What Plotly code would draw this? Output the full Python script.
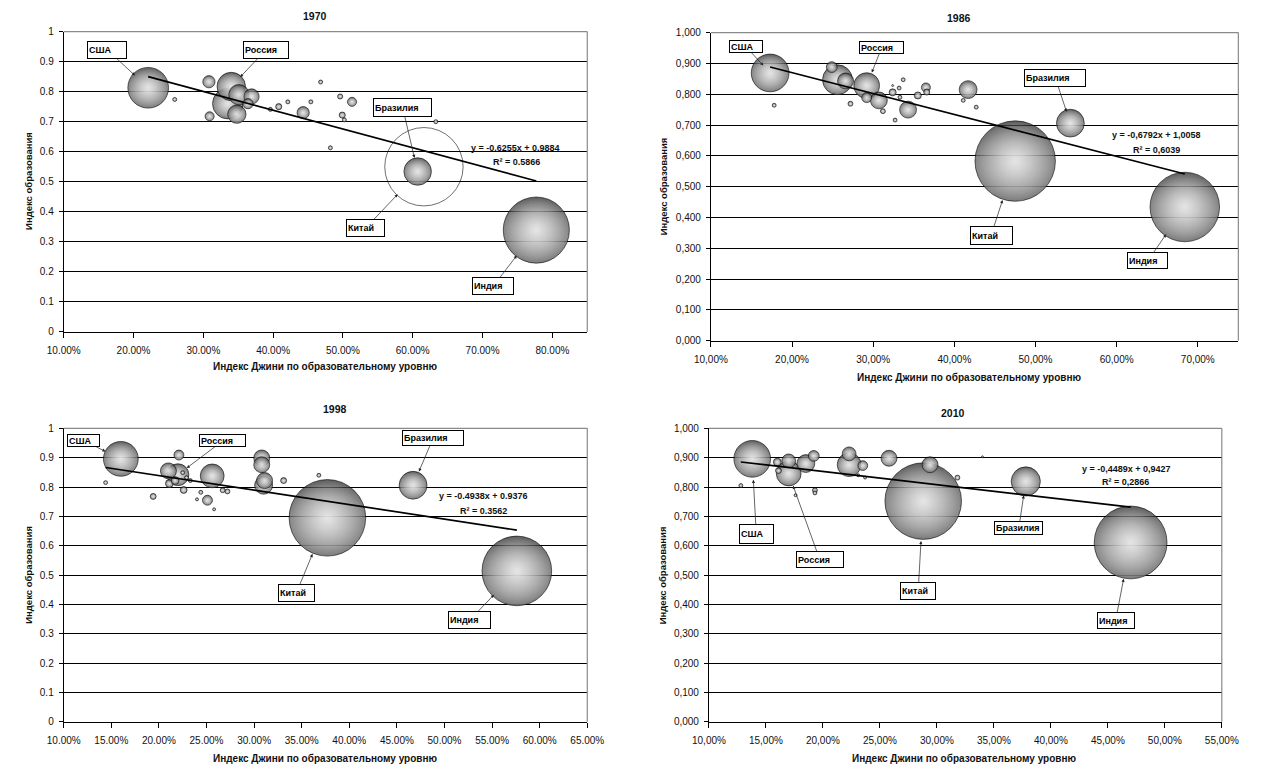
import plotly.graph_objects as go

W, H = 1268, 773

# ---------------- data ----------------
years = ["1970", "1986", "1998", "2010"]

# 1970
gini_1970 = [0.221, 0.259, 0.308, 0.309, 0.340, 0.335, 0.348, 0.351, 0.369, 0.364, 0.396, 0.408,
             0.421, 0.443, 0.454, 0.468, 0.496, 0.513, 0.499, 0.502, 0.633, 0.482, 0.607, 0.777, 0.616]
edu_1970 = [0.813, 0.774, 0.833, 0.718, 0.817, 0.760, 0.725, 0.790, 0.784, 0.760, 0.741, 0.750,
            0.766, 0.730, 0.766, 0.832, 0.784, 0.766, 0.722, 0.706, 0.700, 0.613, 0.534, 0.339, 0.550]
pop_1970 = [221, 2.2, 20, 11, 108, 124, 45, 55, 31, 14, 2.2, 5,
            2.2, 20, 2.2, 2.2, 3.5, 11, 5, 2.2, 2.2, 2.2, 101, 584, 820]
names_1970 = ["США", "", "", "", "Россия", "", "", "", "", "", "", "",
              "", "", "", "", "", "", "", "", "", "", "Бразилия", "Индия", "Китай"]

# 1986
gini_1986 = [0.173, 0.178, 0.249, 0.256, 0.266, 0.272, 0.292, 0.292, 0.307, 0.312, 0.324, 0.324, 0.327,
             0.332, 0.333, 0.337, 0.343, 0.355, 0.365, 0.366, 0.417, 0.411, 0.427, 0.543, 0.475, 0.684]
edu_1986 = [0.869, 0.764, 0.888, 0.847, 0.843, 0.769, 0.828, 0.789, 0.780, 0.745, 0.806, 0.828, 0.716,
            0.820, 0.790, 0.847, 0.750, 0.796, 0.822, 0.807, 0.815, 0.780, 0.758, 0.706, 0.583, 0.434]
pop_1986 = [229, 2.5, 19, 143, 41, 4, 107, 16, 46, 4, 8, 0.6, 2.5,
            2.5, 2.5, 2.5, 46, 8, 13, 6, 51, 2.5, 2.5, 124, 1040, 777]
names_1986 = ["США", "", "", "", "", "", "Россия", "", "", "", "", "", "",
              "", "", "", "", "", "", "", "", "", "", "Бразилия", "Китай", "Индия"]

# 1998
gini_1998 = [0.160, 0.144, 0.194, 0.221, 0.210, 0.220, 0.211, 0.217, 0.225, 0.229, 0.233, 0.226, 0.244, 0.240,
             0.251, 0.258, 0.256, 0.267, 0.272, 0.308, 0.308, 0.311, 0.310, 0.331, 0.368, 0.377, 0.467, 0.576]
edu_1998 = [0.896, 0.815, 0.768, 0.909, 0.855, 0.842, 0.812, 0.822, 0.849, 0.832, 0.822, 0.790, 0.782, 0.758,
            0.755, 0.724, 0.838, 0.789, 0.785, 0.899, 0.876, 0.822, 0.806, 0.822, 0.840, 0.695, 0.806, 0.514]
pop_1998 = [256, 3.3, 7.5, 21, 54, 101, 13, 13, 3.3, 3.3, 3.3, 10, 3.3, 1.9,
            21, 1.9, 120, 5.2, 5.2, 54, 54, 54, 68, 7.5, 3.3, 1240, 164, 1025]
names_1998 = ["США", "", "", "", "", "Россия", "", "", "", "", "", "", "", "",
              "", "", "", "", "", "", "", "", "", "", "", "Китай", "Бразилия", "Индия"]

# 2010
gini_2010 = [0.138, 0.128, 0.160, 0.161, 0.170, 0.170, 0.176, 0.185, 0.192, 0.193, 0.193, 0.223,
             0.223, 0.235, 0.231, 0.237, 0.258, 0.294, 0.318, 0.340, 0.288, 0.378, 0.470]
edu_2010 = [0.896, 0.805, 0.885, 0.856, 0.846, 0.889, 0.772, 0.880, 0.906, 0.789, 0.780, 0.913,
            0.876, 0.873, 0.840, 0.832, 0.898, 0.876, 0.832, 0.903, 0.752, 0.819, 0.611]
pop_2010 = [308, 3.6, 14, 8, 140, 44, 2, 73, 27, 5.6, 3.6, 44,
            129, 22, 2, 2, 58, 58, 5.6, 0.9, 1340, 194, 1211]
names_2010 = ["США", "", "", "", "Россия", "", "", "", "", "", "", "",
              "", "", "", "", "", "", "", "", "Китай", "Бразилия", "Индия"]

gini = [gini_1970, gini_1986, gini_1998, gini_2010]
edu = [edu_1970, edu_1986, edu_1998, edu_2010]
pop = [pop_1970, pop_1986, pop_1998, pop_2010]
names = [names_1970, names_1986, names_1998, names_2010]

# hollow (estimated) bubble in 1970: China
hollow_1970 = ["Китай"]

# trend lines
slopes = [-0.6255, -0.6792, -0.4938, -0.4489]
intercepts = [0.9884, 1.0058, 0.9376, 0.9427]
eq_texts = ["y = -0.6255x + 0.9884", "y = -0,6792x + 1,0058",
            "y = -0.4938x + 0.9376", "y = -0,4489x + 0,9427"]
r2_texts = ["R² = 0.5866", "R² = 0,6039", "R² = 0.3562", "R² = 0,2866"]

# axis ticks
x_ticks_1970 = [0.10, 0.20, 0.30, 0.40, 0.50, 0.60, 0.70, 0.80]
x_labels_1970 = ["10.00%", "20.00%", "30.00%", "40.00%", "50.00%", "60.00%", "70.00%", "80.00%"]
x_ticks_1986 = [0.10, 0.20, 0.30, 0.40, 0.50, 0.60, 0.70]
x_labels_1986 = ["10,00%", "20,00%", "30,00%", "40,00%", "50,00%", "60,00%", "70,00%"]
x_ticks_1998 = [0.10, 0.15, 0.20, 0.25, 0.30, 0.35, 0.40, 0.45, 0.50, 0.55, 0.60, 0.65]
x_labels_1998 = ["10.00%", "15.00%", "20.00%", "25.00%", "30.00%", "35.00%", "40.00%", "45.00%",
                 "50.00%", "55.00%", "60.00%", "65.00%"]
x_ticks_2010 = [0.10, 0.15, 0.20, 0.25, 0.30, 0.35, 0.40, 0.45, 0.50, 0.55]
x_labels_2010 = ["10,00%", "15,00%", "20,00%", "25,00%", "30,00%", "35,00%", "40,00%", "45,00%",
                 "50,00%", "55,00%"]
y_ticks = [0, 0.1, 0.2, 0.3, 0.4, 0.5, 0.6, 0.7, 0.8, 0.9, 1.0]
y_labels_dot = ["0", "0.1", "0.2", "0.3", "0.4", "0.5", "0.6", "0.7", "0.8", "0.9", "1"]
y_labels_comma = ["0,000", "0,100", "0,200", "0,300", "0,400", "0,500", "0,600", "0,700",
                  "0,800", "0,900", "1,000"]

x_ticks = [x_ticks_1970, x_ticks_1986, x_ticks_1998, x_ticks_2010]
x_labels = [x_labels_1970, x_labels_1986, x_labels_1998, x_labels_2010]
y_labels = [y_labels_dot, y_labels_comma, y_labels_dot, y_labels_comma]
x_ranges = [[0.10, 0.85], [0.10, 0.75], [0.10, 0.65], [0.10, 0.55]]

x_title = "Индекс Джини по образовательному уровню"
y_title = "Индекс образования"

# ---------------- layout / style ----------------
FONT = "Liberation Sans, Arial, sans-serif"
# plot areas in page pixels: left, right, top, bottom
areas = [(48, 586, 26, 331), (713, 1255, 27, 340), (48, 586, 429, 727), (711, 1238, 429, 727)]
title_pos = [(306, 10), (968, 12), (327, 409), (962, 413)]
xtitle_pos = [(317, 366), (979, 377), (317, 764), (974, 764)]
ytitle_pos = [(12, 178), (664, 183), (11, 578), (663, 578)]
eq_pos = [((512, 144), (513, 158)), ((1171, 131), (1171, 146)),
          ((479, 498), (479, 513)), ((1140, 470), (1139, 483))]
bubble_scale = 0.257   # largest bubble diameter as share of plot height

# label box style: name -> (ax, ay, width, height, standoff)
label_style = [
    {"США": (-41, -38, 40, 18, 18), "Россия": (35, -37, 46, 18, 13), "Бразилия": (-15, -64, 59, 19, 14),
     "Китай": (-58, 61, 39, 18, 38), "Индия": (-43, 56, 42, 18, 32)},
    {"США": (-24, -26, 34, 13, 10), "Россия": (15, -38, 45, 13, 14), "Бразилия": (-15, -45, 62, 18, 12),
     "Китай": (-24, 74, 43, 19, 41), "Индия": (-37, 54, 41, 17, 33)},
    {"США": (-37, -18, 33, 13, 17), "Россия": (45, -34, 47, 13, 11), "Бразилия": (20, -47, 62, 16, 15),
     "Китай": (-31, 75, 37, 18, 39), "Индия": (-47, 49, 43, 18, 33)},
    {"США": (4, 75, 35, 20, 21), "Россия": (31, 86, 48, 17, 13), "Бразилия": (-7, 47, 49, 14, 14),
     "Китай": (-5, 90, 36, 18, 40), "Индия": (-15, 78, 38, 17, 37)},
]

# bubble shading layers: (marker colour = top/edge, gradient colour = bottom/centre, type)
shade_layers = [
    ("#151515", "#ffffff", "vertical"),                       # dark top -> white bottom
    ("rgba(45,45,45,0)", "rgba(45,45,45,0.9)", "vertical"),   # darken bottom
    ("rgba(255,255,255,0)", "rgba(255,255,255,1)", "radial"), # white highlight in the middle
    ("rgba(255,255,255,0)", "rgba(255,255,255,0.45)", "radial"),
]


def px(xp):
    return xp / W


def py(yp):
    return 1 - yp / H


fig = go.Figure()
annotations = []
shapes = []
layout_axes = {}

for i, yr in enumerate(years):
    sfx = "" if i == 0 else str(i + 1)
    xa, ya = "x" + sfx, "y" + sfx
    L, R, T, B = areas[i]
    plot_h = B - T
    d_max = bubble_scale * plot_h
    sizeref = 2 * max(pop[i]) / d_max ** 2

    hollow = hollow_1970 if i == 0 else []
    order = sorted(range(len(gini[i])), key=lambda k: -pop[i][k])

    for k in order:
        if names[i][k] in hollow:
            fig.add_trace(go.Scatter(
                x=[gini[i][k]], y=[edu[i][k]], mode="markers", xaxis=xa, yaxis=ya,
                hoverinfo="skip", showlegend=False,
                marker=dict(size=[pop[i][k]], sizemode="area", sizeref=sizeref,
                            color="rgba(0,0,0,0)", line=dict(color="black", width=0.8))))
            continue
        for li, (c_top, c_grad, gtype) in enumerate(shade_layers):
            last = li == len(shade_layers) - 1
            fig.add_trace(go.Scatter(
                x=[gini[i][k]], y=[edu[i][k]], mode="markers", xaxis=xa, yaxis=ya,
                hoverinfo="skip", showlegend=False,
                marker=dict(size=[pop[i][k]], sizemode="area", sizeref=sizeref, color=c_top,
                            gradient=dict(type=gtype, color=c_grad),
                            line=dict(color="black", width=0.8 if last else 0))))

    # trend line from min to max of data
    x0, x1 = min(gini[i]), max(gini[i])
    fig.add_trace(go.Scatter(
        x=[x0, x1], y=[slopes[i] * x0 + intercepts[i], slopes[i] * x1 + intercepts[i]],
        mode="lines", xaxis=xa, yaxis=ya, hoverinfo="skip", showlegend=False,
        line=dict(color="black", width=1.7)))

    layout_axes["xaxis" + sfx] = dict(
        domain=[px(L), px(R)], anchor=ya, range=x_ranges[i],
        tickvals=x_ticks[i], ticktext=x_labels[i], ticks="outside", ticklen=5, tickwidth=1,
        tickcolor="black", showline=True, linecolor="black", linewidth=1, showgrid=False,
        zeroline=False, tickfont=dict(family=FONT, size=10, color="#111"), ticklabelstandoff=4,
        fixedrange=True)
    layout_axes["yaxis" + sfx] = dict(
        domain=[py(B), py(T)], anchor=xa, range=[0, 1],
        tickvals=y_ticks, ticktext=y_labels[i], ticks="outside", ticklen=4, tickwidth=1,
        tickcolor="black", showline=True, linecolor="black", linewidth=1, showgrid=True,
        gridcolor="black", gridwidth=1, zeroline=False,
        tickfont=dict(family=FONT, size=10, color="#111"), ticklabelstandoff=3, fixedrange=True)

    # gray top & right border of plot area
    shapes.append(dict(type="line", xref=xa + " domain", yref=ya + " domain", x0=0, x1=1, y0=1, y1=1,
                       line=dict(color="#8a8a8a", width=1.2)))
    shapes.append(dict(type="line", xref=xa + " domain", yref=ya + " domain", x0=1, x1=1, y0=0, y1=1,
                       line=dict(color="#8a8a8a", width=1.2)))

    # titles
    annotations.append(dict(text=yr, x=px(title_pos[i][0]), y=py(title_pos[i][1]), xref="paper",
                            yref="paper", showarrow=False, xanchor="center", yanchor="middle",
                            font=dict(family=FONT, size=10.5, color="#111", weight="bold")))
    annotations.append(dict(text=x_title, x=px(xtitle_pos[i][0]), y=py(xtitle_pos[i][1]), xref="paper",
                            yref="paper", showarrow=False, xanchor="center", yanchor="middle",
                            font=dict(family=FONT, size=10, color="#111", weight="bold")))
    annotations.append(dict(text=y_title, x=px(ytitle_pos[i][0]), y=py(ytitle_pos[i][1]), xref="paper",
                            yref="paper", showarrow=False, xanchor="center", yanchor="middle",
                            textangle=-90, font=dict(family=FONT, size=9.5, color="#111", weight="bold")))
    # equation
    (e1, e2) = eq_pos[i]
    annotations.append(dict(text=eq_texts[i], x=px(e1[0]), y=py(e1[1]), xref="paper", yref="paper",
                            showarrow=False, xanchor="center", yanchor="middle",
                            font=dict(family=FONT, size=9, color="#111", weight="bold")))
    annotations.append(dict(text=r2_texts[i], x=px(e2[0]), y=py(e2[1]),
                            xref="paper", yref="paper", showarrow=False, xanchor="center",
                            yanchor="middle", font=dict(family=FONT, size=9, color="#111", weight="bold")))

    # country labels
    for k, nm in enumerate(names[i]):
        if not nm:
            continue
        ax_, ay_, bw, bh, so = label_style[i][nm]
        annotations.append(dict(
            text=nm, x=gini[i][k], y=edu[i][k], xref=xa, yref=ya, ax=ax_, ay=ay_,
            showarrow=True, arrowhead=2, arrowsize=0.9, arrowwidth=0.7, arrowcolor="#222",
            standoff=so, bordercolor="black", borderwidth=1, borderpad=1, bgcolor="white",
            width=bw - 4, height=bh - 4, align="left", valign="middle",
            font=dict(family=FONT, size=9, color="black", weight="bold")))

fig.update_layout(
    width=W, height=H, autosize=False, margin=dict(l=0, r=0, t=0, b=0),
    paper_bgcolor="white", plot_bgcolor="white", showlegend=False,
    annotations=annotations, shapes=shapes, **layout_axes)

fig.write_html("out.html", config={"displayModeBar": False},
               post_script="document.body.style.margin='0';")
